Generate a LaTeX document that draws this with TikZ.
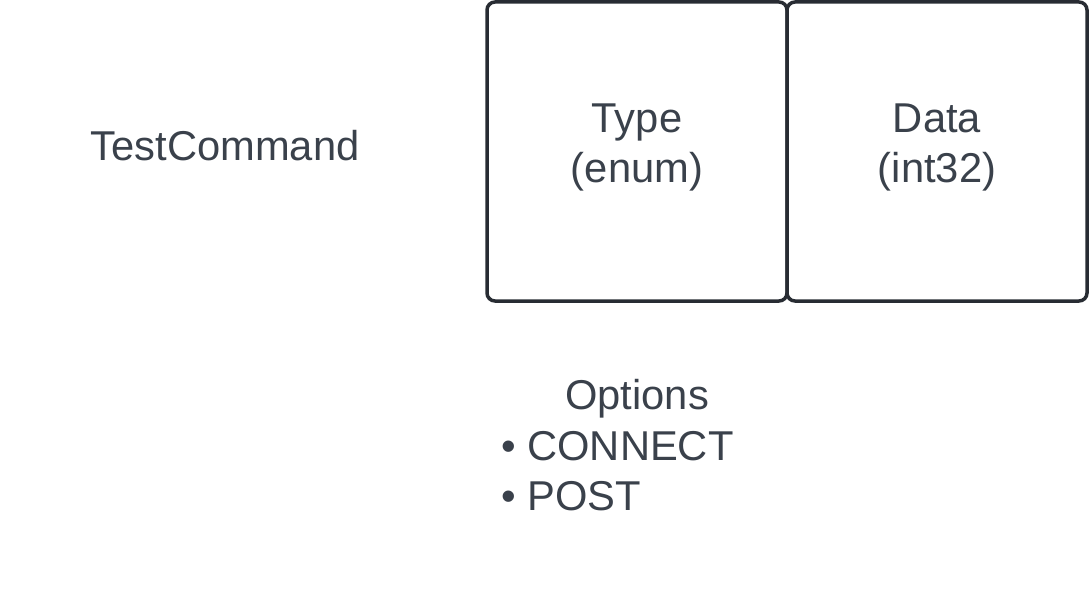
\documentclass[tikz,border=0pt]{standalone}
\usepackage{fontspec}
\setmainfont{Liberation Sans}
\usetikzlibrary{positioning}
\definecolor{boxline}{HTML}{282C33}
\definecolor{txt}{HTML}{3A414B}
\begin{document}
\begin{tikzpicture}[x=1pt, y=-1pt,
field/.style = {draw=boxline, rectangle, rounded corners=8pt, line width=3.5pt, minimum width=300pt, minimum height=299pt, inner sep=0pt, outer sep=0pt},
lbl/.style = {text=txt, align=center, font=\fontsize{41.7}{50}\selectfont},
item/.style = {text=txt, anchor=west, inner sep=0pt, font=\fontsize{41.7}{50}\selectfont},
                    ]
    \useasboundingbox (0,0) rectangle (1089,602);
    \node [lbl] at (225,146)            (title){TestCommand};
    \node [field] at (637,151.5)         (type){};
    \node [field, right=0pt of type]     (data){};
    \node [lbl, yshift=4pt] at (type)    (typetext){Type\\(enum)};
    \node [lbl, yshift=4pt] at (data)    (datatext){Data\\(int32)};
    \node [lbl] at (637,399)             (options){Options};
    \node [item] at (501,446)            (connect){\textbullet\ CONNECT};
    \node [item] at (501,496)            (post){\textbullet\ POST};
\end{tikzpicture}
\end{document}
